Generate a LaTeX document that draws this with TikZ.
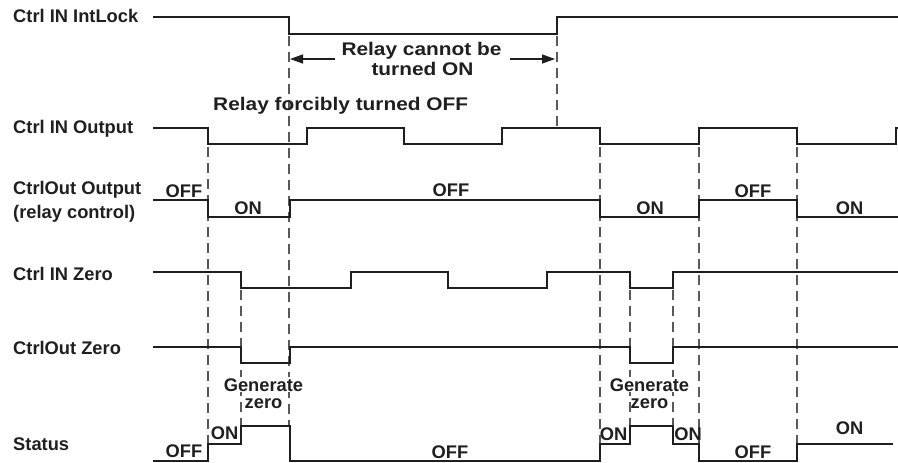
\documentclass[tikz,border=0pt]{standalone}
\usepackage{fontspec}
\usepackage{graphicx}
\setmainfont{Liberation Sans}
\usetikzlibrary{arrows.meta}
\begin{document}
\begin{tikzpicture}[x=1pt,y=-1pt,
  sig/.style={line width=2.6pt, draw=black!88},
  guide/.style={line width=1.2pt, draw=black!65, dash pattern=on 10pt off 6pt},
  lbl/.style={font=\fontsize{18.3}{20}\selectfont\bfseries, text=black!88, inner sep=0pt, anchor=base west},
  st/.style={font=\fontsize{18.3}{20}\selectfont\bfseries, text=black!88, inner sep=0pt, anchor=base},
  arr/.style={line width=1.3pt, draw=black!88, -{Triangle[length=13pt,width=9pt]}}
]
\useasboundingbox (0,0) rectangle (898,463);

% guide (dashed) lines
\draw[guide] (208,147) -- (208,444);
\draw[guide] (289,36) -- (289,426);
\draw[guide] (241,290) -- (241,426);
\draw[guide] (557,36) -- (557,126);
\draw[guide] (600,147) -- (600,444);
\draw[guide] (630,290) -- (630,426);
\draw[guide] (673,290) -- (673,426);
\draw[guide] (699,147) -- (699,444);
\draw[guide] (797,147) -- (797,444);

% signal labels
\node[lbl] (l1) at (13,23) {Ctrl IN IntLock};
\node[lbl] (l2) at (13,133) {Ctrl IN Output};
\node[lbl] (l3a) at (13,194) {CtrlOut Output};
\node[lbl] (l3b) at (13,218) {(relay control)};
\node[lbl] (l4) at (13,280) {Ctrl IN Zero};
\node[lbl] (l5) at (13,354) {CtrlOut Zero};
\node[lbl] (l6) at (13,450) {Status};

% waveforms
\draw[sig] (153,17) -| (289,34) -| (557,17) -- (898,17);
\draw[sig] (153,128) -| (208,144) -| (307,128) -| (404,144) -| (502,128) -| (600,144) -| (699,128) -| (797,144) -| (896,128) -- (898,128);
\draw[sig] (153,200) -| (208,217) -| (290,200) -| (600,217) -| (699,200) -| (797,217) -- (898,217);
\draw[sig] (153,272) -| (241,288) -| (351,272) -| (448,288) -| (547,272) -| (630,288) -| (673,272) -- (898,272);
\draw[sig] (153,347) -| (241,363) -| (290,347) -| (630,363) -| (673,347) -- (898,347);
\draw[sig] (153,461) -| (208,444) -| (241,426) -| (290,461) -| (600,444) -| (630,426) -| (673,444) -| (699,461) -| (797,444) -- (893,444);

% relay annotations
\node[st] (r1) at (421.5,56) {\scalebox{1.14}[1]{Relay cannot be}};
\node[st] (r2) at (422.5,75) {\scalebox{1.14}[1]{turned ON}};
\node[st, anchor=base west] (r3) at (213,110) {\scalebox{1.14}[1]{Relay forcibly turned OFF}};
\coordinate (al) at (335,59);
\coordinate (alt) at (290,59);
\coordinate (ar) at (510,59);
\coordinate (art) at (555,59);
\draw[arr] (al) -- (alt);
\draw[arr] (ar) -- (art);

% CtrlOut Output states
\node[st] (o1) at (184,197) {OFF};
\node[st] (o2) at (248,214) {ON};
\node[st] (o3) at (451,196) {OFF};
\node[st] (o4) at (650,214) {ON};
\node[st] (o5) at (753,197) {OFF};
\node[st] (o6) at (849.5,214) {ON};

% generate zero
\node[st, fill=white, inner sep=1pt] (g1) at (263.5,391) {Generate};
\node[st] (g1b) at (263.5,408) {zero};
\node[st, fill=white, inner sep=1pt] (g2) at (649.5,391) {Generate};
\node[st] (g2b) at (649.5,408) {zero};

% Status states
\node[st] (s1) at (184,457) {OFF};
\node[st] (s2) at (224.5,439) {ON};
\node[st] (s3) at (450,458) {OFF};
\node[st] (s4) at (613.5,440) {ON};
\node[st] (s5) at (688,440) {ON};
\node[st] (s6) at (753,458) {OFF};
\node[st] (s7) at (849.5,434) {ON};
\end{tikzpicture}
\end{document}
